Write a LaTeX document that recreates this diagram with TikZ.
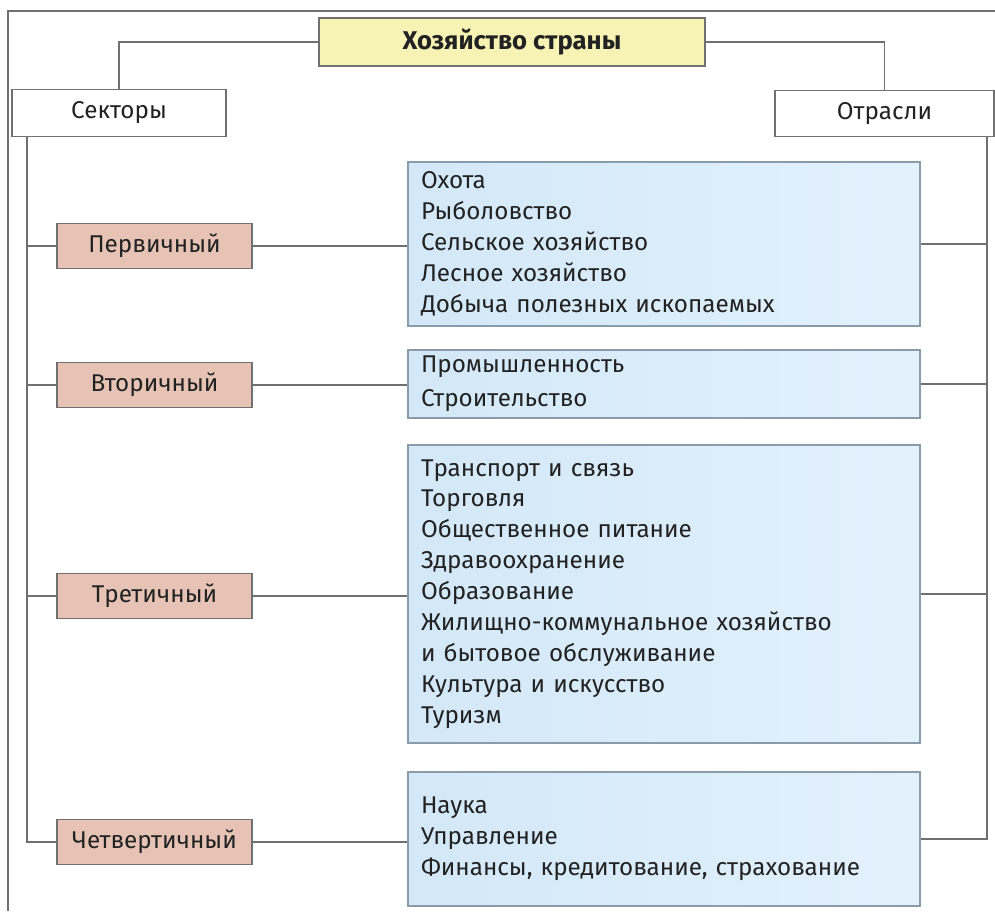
\documentclass[tikz,border=0pt]{standalone}
\usepackage{fontspec}
\setmainfont{Fira Sans}
\usetikzlibrary{positioning}
\definecolor{titlefill}{HTML}{F7F3B5}
\definecolor{sectorfill}{HTML}{E6C3B5}
\definecolor{branchleft}{HTML}{D3E8F8}
\definecolor{branchright}{HTML}{E3F1FC}
\definecolor{linegray}{HTML}{707070}
\definecolor{boxblue}{HTML}{8A9CAA}
\definecolor{textgray}{HTML}{222222}
\begin{document}
\begin{tikzpicture}[
        every node/.style={font=\fontsize{13.8}{17.6}\selectfont, text=textgray},
        head/.style={rectangle, draw=linegray, line width=0.8pt, fill=titlefill, minimum width=7.72cm, minimum height=0.96cm, font=\fontsize{14.6}{17.6}\selectfont\bfseries},
        group/.style={rectangle, draw=linegray, line width=0.8pt, fill=white, minimum height=0.93cm},
        sector/.style={rectangle, draw=linegray, line width=0.8pt, fill=sectorfill, minimum width=3.9cm, minimum height=0.9cm},
        branch/.style={rectangle, draw=boxblue, line width=0.8pt, left color=branchleft, right color=branchright, text width=9.72cm, inner xsep=0.26cm, align=left},
        link/.style={draw=linegray, line width=0.7pt}
        ]
      \useasboundingbox (0,0) rectangle (19.9,18.22);
      % page frame
      \draw[link] (0.16,0) -- (0.16,18.0) -- (19.9,18.0);

      \node[head] (eco) at (10.24,17.38) {Хозяйство страны};
      \node[group, minimum width=4.28cm] (sectors) at (2.38,15.96) {Секторы};
      \node[group, minimum width=4.38cm] (branches) at (17.69,15.95) {Отрасли};

      \node[sector] (s1) at (3.09,13.3) {Первичный};
      \node[sector] (s2) at (3.09,10.52) {Вторичный};
      \node[sector] (s3) at (3.09,6.3) {Третичный};
      \node[sector] (s4) at (3.09,1.38) {Четвертичный};

      \node[branch, minimum height=3.28cm] (b1) at (13.28,13.34) {Охота\\Рыболовство\\Сельское хозяйство\\Лесное хозяйство\\Добыча полезных ископаемых};
      \node[branch, minimum height=1.36cm] (b2) at (13.28,10.54) {Промышленность\\[2pt]Строительство};
      \node[branch, minimum height=5.96cm] (b3) at (13.28,6.34) {Транспорт и связь\\Торговля\\Общественное питание\\Здравоохранение\\Образование\\Жилищно-коммунальное хозяйство\\и бытовое обслуживание\\Культура и искусство\\Туризм};
      \node[branch, minimum height=2.68cm] (b4) at (13.28,1.44) {Наука\\Управление\\Финансы, кредитование, страхование};

      \coordinate (ltop) at (0.54,15.5);
      \coordinate (rtop) at (19.74,15.48);

      \draw[link] (eco.west) -| (sectors.north);
      \draw[link] (eco.east) -| (branches.north);

      \draw[link] (ltop) |- (s4.west);
      \draw[link] (s1.west) -- (s1.west -| ltop);
      \draw[link] (s2.west) -- (s2.west -| ltop);
      \draw[link] (s3.west) -- (s3.west -| ltop);

      \draw[link] (rtop) |- (b4.east);
      \draw[link] (b1.east) -- (b1.east -| rtop);
      \draw[link] (b2.east) -- (b2.east -| rtop);
      \draw[link] (b3.east) -- (b3.east -| rtop);

      \draw[link] (s1.east) -- (s1.east -| b1.west);
      \draw[link] (s2.east) -- (s2.east -| b2.west);
      \draw[link] (s3.east) -- (s3.east -| b3.west);
      \draw[link] (s4.east) -- (s4.east -| b4.west);

    \end{tikzpicture}
\end{document}
